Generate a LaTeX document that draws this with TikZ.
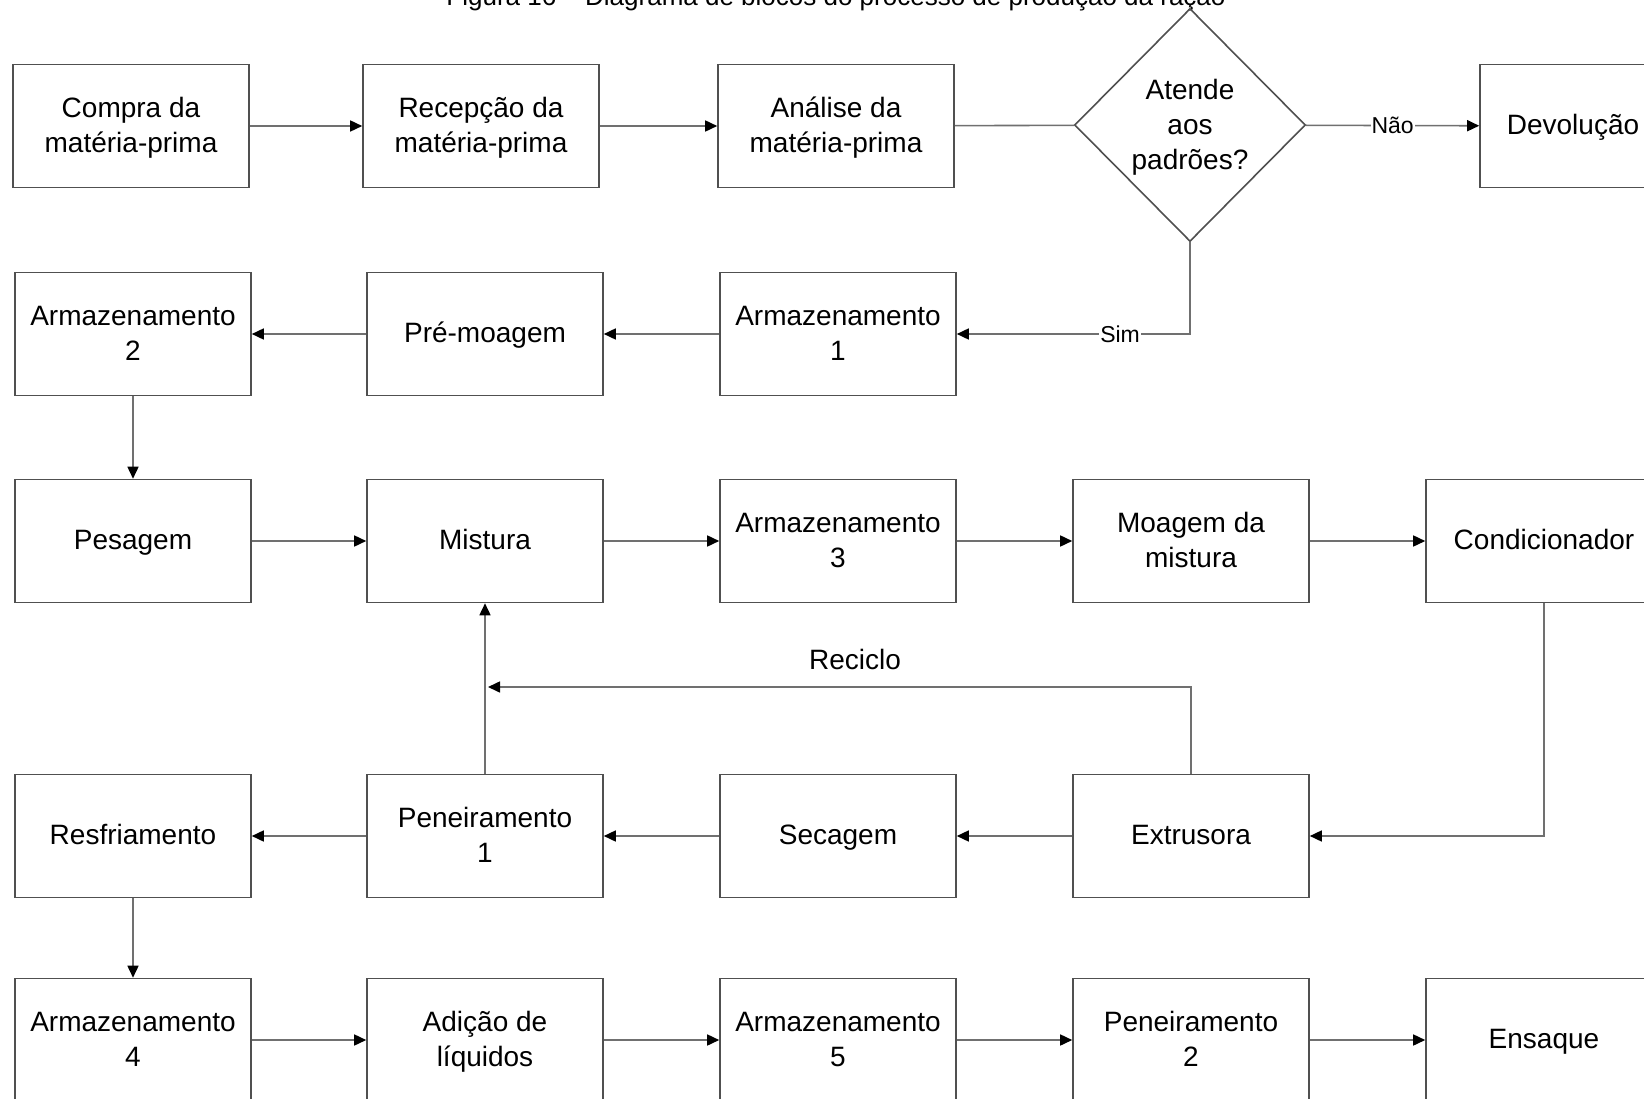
\documentclass[tikz,border=0pt]{standalone}
\usepackage{fontspec}
\setmainfont{Liberation Sans}
\usetikzlibrary{arrows.meta,shapes.geometric}
\definecolor{boxc}{RGB}{80,80,80}
\definecolor{linec}{RGB}{112,112,112}
\newcommand{\topfix}{\rule{0pt}{28pt}}
\begin{document}
\begin{tikzpicture}[x=1pt,y=-1pt,
  blk/.style={draw=boxc, line width=1.6pt, minimum width=236pt, minimum height=123pt, inner sep=0pt, align=center, font=\fontsize{28}{35}\selectfont, execute at begin node=\topfix, execute at end node=\strut},
  conn/.style={draw=linec, line width=1.6pt, -{Triangle[length=12pt,width=11pt,color=black]}},
  plainln/.style={draw=linec, line width=1.6pt},
  lbl/.style={fill=white, inner sep=1pt, font=\fontsize{23}{27}\selectfont}]
\useasboundingbox (0,0) rectangle (1644,1099);
\fill[white] (0,0) rectangle (1644,1099);

\node[anchor=base, font=\fontsize{26}{30}\selectfont] (title) at (836,6) {Figura 16 – Diagrama de blocos do processo de produção da ração};

% row 1
\node[blk] (compra) at (131,126) {\topfix Compra da\\matéria-prima};
\node[blk] (recep) at (481,126) {\topfix Recepção da\\matéria-prima};
\node[blk] (analise) at (836,126) {\topfix Análise da\\matéria-prima};
\node[diamond, draw=boxc, line width=1.6pt, minimum width=231pt, minimum height=233pt, inner sep=0pt] (dec) at (1190,125) {};
\node[align=center, font=\fontsize{28}{35}\selectfont, execute at end node=\strut] (dectext) at (1190,126) {\topfix Atende\\aos\\padrões?};
\node[blk, minimum width=186pt] (devol) at (1573,126) {Devolução};

% row 2
\node[blk] (arm2) at (133,334) {\topfix Armazenamento\\2};
\node[blk] (premo) at (485,334) {Pré-moagem};
\node[blk] (arm1) at (838,334) {\topfix Armazenamento\\1};

% row 3
\node[blk] (pesagem) at (133,541) {Pesagem};
\node[blk] (mistura) at (485,541) {Mistura};
\node[blk] (arm3) at (838,541) {\topfix Armazenamento\\3};
\node[blk] (moagem) at (1191,541) {\topfix Moagem da\\mistura};
\node[blk] (cond) at (1544,541) {Condicionador};

% row 4
\node[blk] (resf) at (133,836) {Resfriamento};
\node[blk] (pen1) at (485,836) {\topfix Peneiramento\\1};
\node[blk] (secagem) at (838,836) {Secagem};
\node[blk] (extr) at (1191,836) {Extrusora};

% row 5
\node[blk] (arm4) at (133,1040) {\topfix Armazenamento\\4};
\node[blk] (adicao) at (485,1040) {\topfix Adição de\\líquidos};
\node[blk] (arm5) at (838,1040) {\topfix Armazenamento\\5};
\node[blk] (pen2) at (1191,1040) {\topfix Peneiramento\\2};
\node[blk] (ensaque) at (1544,1040) {Ensaque};

% connectors
\draw[conn] (compra) -- (recep);
\draw[conn] (recep) -- (analise);
\draw[plainln] (analise) -- (dec);
\draw[conn] (dec) -- node[lbl] (nao) {Não} (devol);
\draw[conn] (dec.south) |- node[lbl, pos=0.65] (sim) {Sim} (arm1.east);
\draw[conn] (arm1) -- (premo);
\draw[conn] (premo) -- (arm2);
\draw[conn] (arm2) -- (pesagem);
\draw[conn] (pesagem) -- (mistura);
\draw[conn] (mistura) -- (arm3);
\draw[conn] (arm3) -- (moagem);
\draw[conn] (moagem) -- (cond);
\draw[conn] (cond.south) |- (extr.east);
\draw[conn] (extr) -- (secagem);
\draw[conn] (secagem) -- (pen1);
\draw[conn] (pen1) -- (resf);
\draw[conn] (pen1) -- (mistura);
\coordinate (recy) at (0,687);
\draw[conn, shorten >=3pt] (extr.north) |- (pen1.north |- recy);
\node[anchor=base, font=\fontsize{28}{35}\selectfont] (reciclo) at (855,669) {Reciclo};
\draw[conn] (resf) -- (arm4);
\draw[conn] (arm4) -- (adicao);
\draw[conn] (adicao) -- (arm5);
\draw[conn] (arm5) -- (pen2);
\draw[conn] (pen2) -- (ensaque);
\end{tikzpicture}
\end{document}
